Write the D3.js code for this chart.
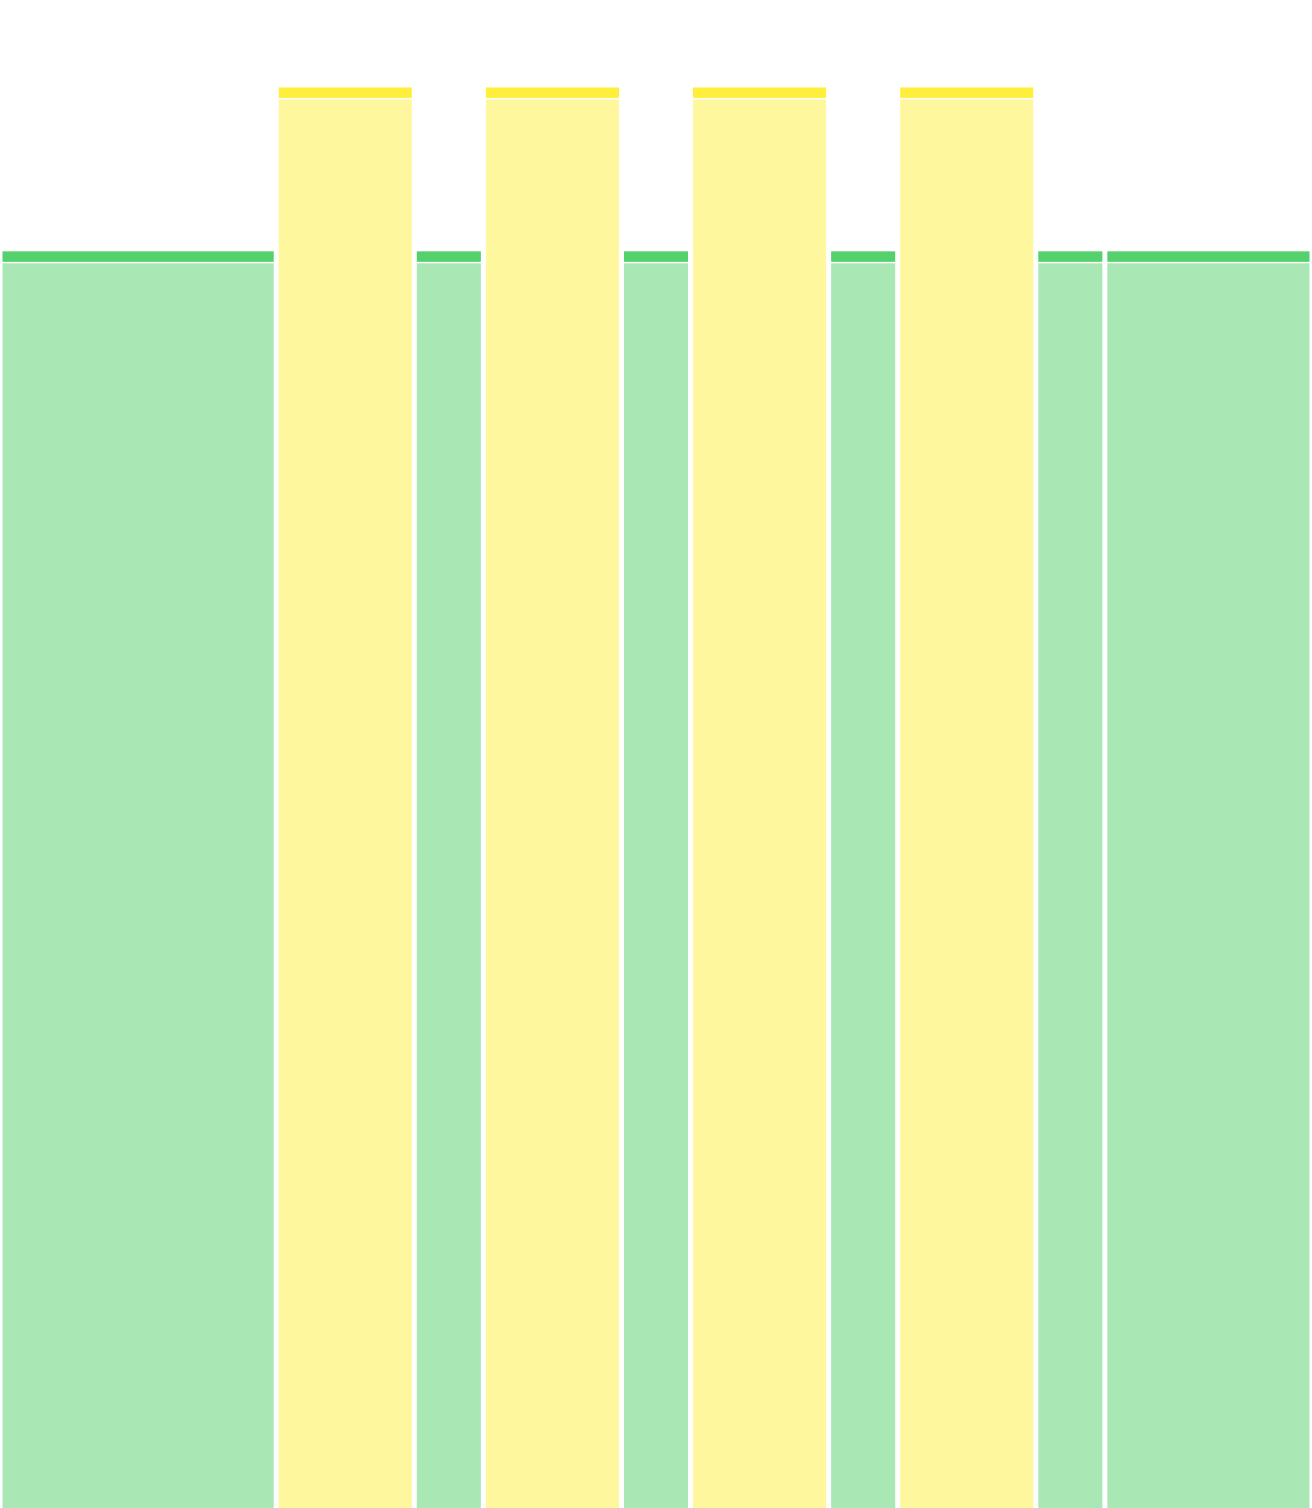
<!DOCTYPE html>
<html>
<head>
<meta charset="utf-8">
<script src="https://cdn.jsdelivr.net/npm/d3@7"></script>
<style>
  html, body { margin: 0; padding: 0; background: #fff; }
  svg { display: block; }
</style>
</head>
<body>
<div id="chart"></div>
<script>
// segments left to right, width in units, kind and value
var segments = ["s1", "s2", "s3", "s4", "s5", "s6", "s7", "s8", "s9", "s10"];
var spans = [4, 2, 1, 2, 1, 2, 1, 2, 1, 3];
var kinds = ["green", "yellow", "green", "yellow", "green", "yellow", "green", "yellow", "green", "green"];
var values = [23, 26, 23, 26, 23, 26, 23, 26, 23, 23];

var colors = {green: "#54d06c", yellow: "#ffef3c"};

var width = 1312, height = 1508;

// build start/end for each segment from the spans
var data = [];
var pos = 0;
for (var i = 0; i < segments.length; i++) {
  data.push({name: segments[i], start: pos, end: pos + spans[i], kind: kinds[i], value: values[i]});
  pos += spans[i];
}

var x = d3.scaleLinear()
  .domain([0, d3.sum(spans)])
  .range([0, width]);

var y = d3.scaleLinear()
  .domain([0, 27.6])
  .range([height, 0]);

var svg = d3.select("#chart")
  .append("svg")
  .attr("width", width)
  .attr("height", height);

var inset = 2.5, cap = 10.5;

var g = svg.selectAll("g.bar")
  .data(data)
  .enter().append("g")
  .attr("class", "bar");

// light body
g.append("rect")
  .attr("x", function (d) { return x(d.start) + inset; })
  .attr("y", function (d) { return y(d.value) + cap + 1.5; })
  .attr("width", function (d) { return x(d.end) - x(d.start) - inset * 2; })
  .attr("height", function (d) { return height - y(d.value) - cap - 1.5; })
  .attr("fill", function (d) { return colors[d.kind]; })
  .attr("fill-opacity", 0.5);

// darker top strip
g.append("rect")
  .attr("x", function (d) { return x(d.start) + inset; })
  .attr("y", function (d) { return y(d.value); })
  .attr("width", function (d) { return x(d.end) - x(d.start) - inset * 2; })
  .attr("height", cap)
  .attr("fill", function (d) { return colors[d.kind]; });
</script>
</body>
</html>
